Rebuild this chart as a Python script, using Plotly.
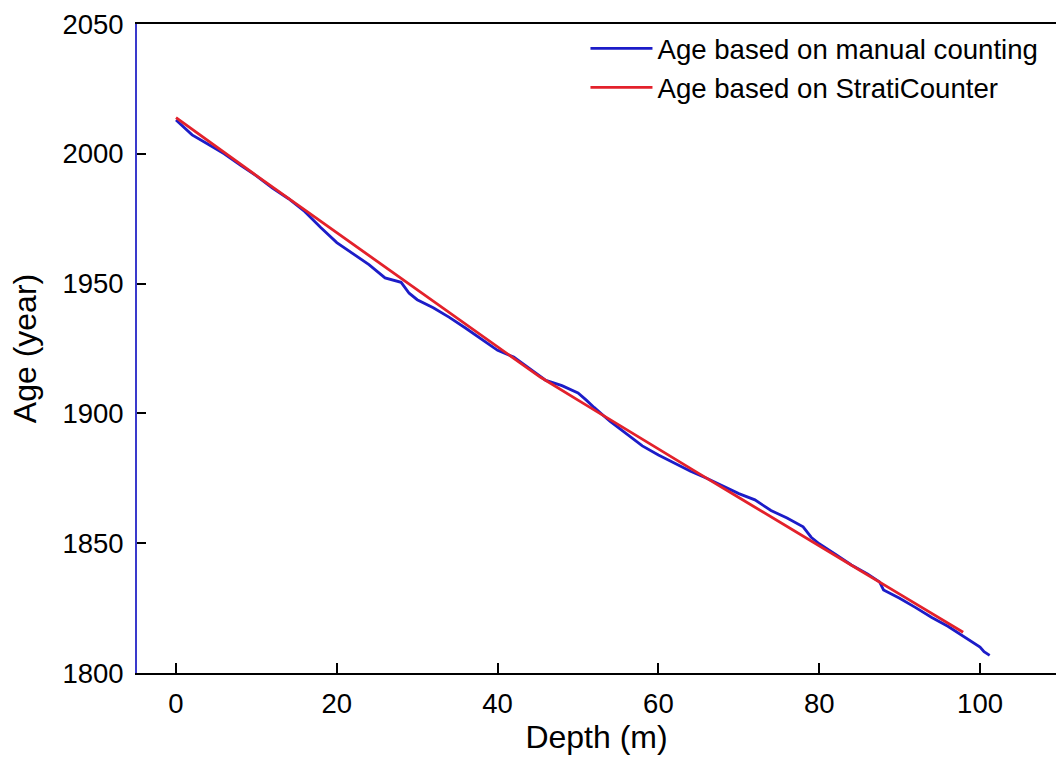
import plotly.graph_objects as go

# Age based on StratiCounter (red)
strati_depth = [0, 5, 10, 15, 20.4, 25, 30, 35, 40, 45.3, 50, 55, 60.2, 65, 70, 75, 80, 85.1, 90, 95, 97.9]
strati_age = [2013.9, 2002.6, 1991.6, 1980.6, 1968.7, 1958.6, 1947.6, 1936.6, 1925.6, 1914.0,
              1905.1, 1895.6, 1885.8, 1876.9, 1867.6, 1858.4, 1849.1, 1839.5, 1830.4, 1821.1, 1815.7]

# Age based on manual counting (blue)
manual_depth = [0, 1, 2, 4, 6, 8, 10, 12, 14, 16, 17, 18, 20, 22, 24, 26, 28, 29, 30, 32, 34, 36,
                38, 40, 42, 44, 46, 48, 50, 51, 52, 54, 56, 58, 60, 62, 64, 66, 68, 70, 72, 74,
                76, 78, 79, 80, 82, 84, 86, 87.5, 88, 90, 92, 94, 96, 98, 99, 100, 100.5, 101.2]
manual_age = [2013.0, 2010.3, 2007.3, 2003.7, 2000.0, 1995.6, 1991.5, 1986.8, 1982.7, 1977.8,
              1974.6, 1971.6, 1965.8, 1961.4, 1957.3, 1952.2, 1950.5, 1946.3, 1943.8, 1940.7,
              1937.0, 1932.9, 1928.5, 1924.3, 1921.7, 1917.2, 1912.7, 1910.7, 1907.9, 1905.2,
              1902.3, 1896.9, 1892.3, 1887.5, 1884.0, 1880.9, 1877.7, 1875.0, 1872.1, 1869.1,
              1866.7, 1862.6, 1859.7, 1856.3, 1852.3, 1849.8, 1845.8, 1841.6, 1838.2, 1835.1,
              1832.0, 1828.8, 1825.2, 1821.4, 1818.0, 1814.0, 1812.0, 1810.0, 1808.2, 1806.8]

x_ticks = [0, 20, 40, 60, 80, 100]
y_ticks = [1800, 1850, 1900, 1950, 2000, 2050]

BLUE = "#1c1cc8"
RED = "#e3212b"
FONT = "Liberation Sans, Arial, sans-serif"

fig = go.Figure()
fig.add_trace(go.Scatter(x=manual_depth, y=manual_age, mode="lines",
                         name="Age based on manual counting",
                         line=dict(color=BLUE, width=2.8)))
fig.add_trace(go.Scatter(x=strati_depth, y=strati_age, mode="lines",
                         name="Age based on StratiCounter",
                         line=dict(color=RED, width=2.8)))

fig.update_layout(
    width=1056, height=757,
    margin=dict(l=137, r=0, t=24, b=84),
    paper_bgcolor="white", plot_bgcolor="white",
    font=dict(family=FONT, color="black"),
    showlegend=True,
    legend=dict(x=0.488, y=1.0, xanchor="left", yanchor="top",
                font=dict(size=27.6, family=FONT, color="black"),
                bgcolor="rgba(0,0,0,0)", borderwidth=0, itemwidth=62),
    xaxis=dict(range=[-4.85, 109.45], tickvals=x_ticks, ticks="inside", ticklen=10,
               tickwidth=1.5, tickcolor="black", showline=True, linecolor="black",
               linewidth=1.8, mirror=True, showgrid=False, zeroline=False,
               tickfont=dict(size=27.5, family=FONT), ticklabelstandoff=5,
               title=dict(text="Depth (m)", font=dict(size=32, family=FONT), standoff=6)),
    yaxis=dict(range=[1800, 2050], tickvals=y_ticks, ticks="inside", ticklen=9,
               tickwidth=1.5, tickcolor="black", showline=True, linecolor="#3a3acc",
               linewidth=1.8, showgrid=False, zeroline=False,
               tickfont=dict(size=27.5, family=FONT), ticklabelstandoff=6,
               title=dict(text="Age (year)", font=dict(size=32, family=FONT), standoff=16)),
)

fig.write_html("out.html")
